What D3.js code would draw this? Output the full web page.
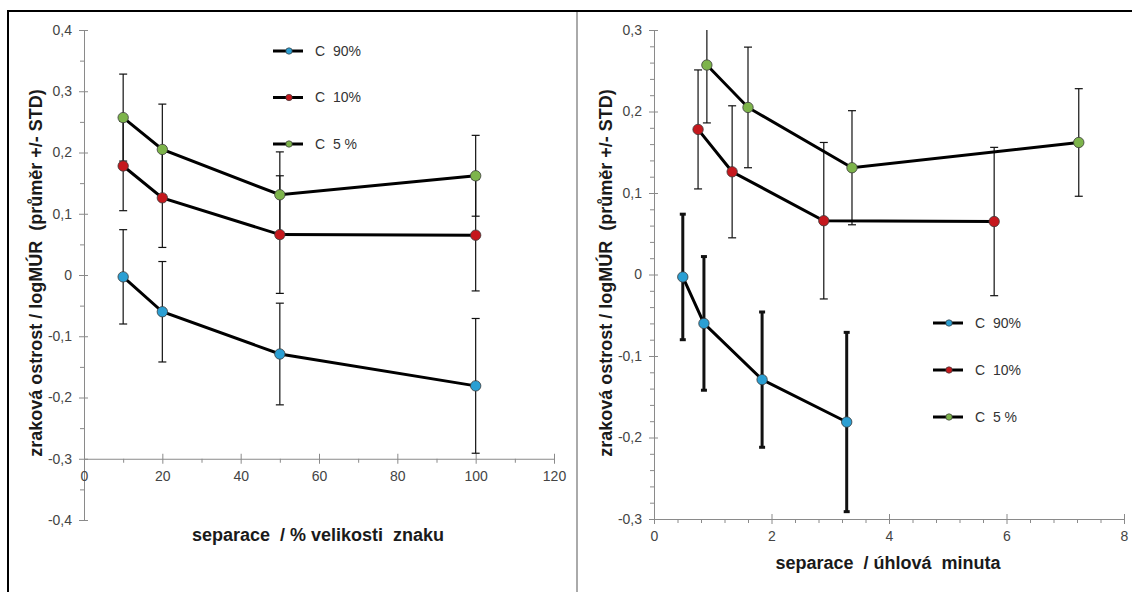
<!DOCTYPE html>
<html>
<head>
<meta charset="utf-8">
<script src="https://cdn.jsdelivr.net/npm/d3@7"></script>
<style>
body { margin: 0; background: #fff; }
text { font-family: "Liberation Sans", Arial, sans-serif; }
</style>
</head>
<body>
<div id="chart"></div>
<script>
// values
var seriesNames = ["C  90%", "C  10%", "C  5 %"];

var sepPercent = [10, 20, 50, 100];
var sepArcmin90 = [0.49, 0.85, 1.84, 3.28];
var sepArcmin10 = [0.75, 1.33, 2.89, 5.79];
var sepArcmin5 = [0.90, 1.60, 3.37, 7.23];

var mean90 = [-0.003, -0.060, -0.129, -0.181];
var std90 = [0.077, 0.082, 0.083, 0.110];
var mean10 = [0.178, 0.126, 0.066, 0.065];
var std10 = [0.073, 0.081, 0.096, 0.091];
var mean5 = [0.257, 0.205, 0.131, 0.162];
var std5 = [0.071, 0.074, 0.070, 0.066];

var yTicksLeft = [-0.4, -0.3, -0.2, -0.1, 0, 0.1, 0.2, 0.3, 0.4];
var xTicksLeft = [0, 20, 40, 60, 80, 100, 120];
var yTicksRight = [-0.3, -0.2, -0.1, 0, 0.1, 0.2, 0.3];
var xTicksRight = [0, 2, 4, 6, 8];

var colors = ["#2b9fd3", "#c5181d", "#7db44b"];

var yTitle = "zraková ostrost / logMÚR  (průměr +/- STD)";

var svg = d3.select("#chart")
  .append("svg")
    .attr("width", 1132)
    .attr("height", 592);

// outer frame
svg.append("line").attr("x1", 8).attr("x2", 1132).attr("y1", 11).attr("y2", 11)
  .attr("stroke", "#000").attr("stroke-width", 2);
svg.append("line").attr("x1", 8).attr("x2", 8).attr("y1", 10).attr("y2", 592)
  .attr("stroke", "#000").attr("stroke-width", 2);
svg.append("line").attr("x1", 577).attr("x2", 577).attr("y1", 12).attr("y2", 592)
  .attr("stroke", "#aaa").attr("stroke-width", 2);

function fmtY(d) {
  if (d === 0) return "0";
  return d3.format(".1f")(d).replace(".", ",").replace("\u2212", "-");
}
function fmtX(d) { return String(d); }

function drawPanel(p) {
  var x = d3.scaleLinear().domain(p.xDomain).range(p.xRange);
  var y = d3.scaleLinear().domain(p.yDomain).range(p.yRange);
  var g = svg.append("g");

  var clipId = "clip" + p.id;
  svg.append("clipPath").attr("id", clipId)
    .append("rect")
      .attr("x", p.xRange[0]).attr("y", y(p.yDomain[1]))
      .attr("width", p.xRange[1] - p.xRange[0])
      .attr("height", y(p.yDomain[0]) - y(p.yDomain[1]));

  // Add Y axis (minor, then major)
  g.append("g")
    .attr("transform", "translate(" + p.xRange[0] + ",0)")
    .call(d3.axisLeft(y).tickValues(p.yMinor).tickSize(4).tickFormat(""))
    .call(function (a) { a.select(".domain").remove(); });
  var ya = g.append("g")
    .attr("transform", "translate(" + p.xRange[0] + ",0)")
    .call(d3.axisLeft(y).tickValues(p.yTicks).tickSize(5).tickSizeOuter(0).tickFormat(fmtY));
  ya.selectAll(".tick line").attr("x1", 4);
  ya.selectAll(".tick text").attr("x", -12);

  // Add X axis
  var ax = y(p.xCross);
  g.append("g")
    .attr("transform", "translate(0," + ax + ")")
    .call(d3.axisBottom(x).tickValues(p.xMinor).tickSize(4).tickFormat(""))
    .call(function (a) { a.select(".domain").remove(); });
  var xa = g.append("g")
    .attr("transform", "translate(0," + ax + ")")
    .call(d3.axisBottom(x).tickValues(p.xTicks).tickSize(5).tickSizeOuter(0).tickFormat(fmtX));
  xa.selectAll(".tick line").attr("y1", -5);
  xa.selectAll(".tick text").attr("y", 12);

  g.selectAll(".domain, .tick line").attr("stroke", "#8a8a8a");
  g.selectAll(".tick text").attr("fill", "#444").style("font-size", "14px");

  var plot = g.append("g").attr("clip-path", "url(#" + clipId + ")");

  p.series.forEach(function (s, i) {
    var pts = s.xs.map(function (v, j) { return { x: v, m: s.mean[j], sd: s.std[j] }; });
    var w = p.thick[i] ? 3 : 1.2;
    var cap = p.thick[i] ? 3 : 4;
    var eb = plot.append("g").attr("stroke", "#111").attr("stroke-width", w);
    eb.selectAll("line.v").data(pts).enter().append("line")
      .attr("x1", function (d) { return x(d.x); })
      .attr("x2", function (d) { return x(d.x); })
      .attr("y1", function (d) { return y(d.m + d.sd); })
      .attr("y2", function (d) { return y(d.m - d.sd); });
    [1, -1].forEach(function (sign) {
      eb.selectAll("line.c" + sign).data(pts).enter().append("line")
        .attr("x1", function (d) { return x(d.x) - cap; })
        .attr("x2", function (d) { return x(d.x) + cap; })
        .attr("y1", function (d) { return y(d.m + sign * d.sd); })
        .attr("y2", function (d) { return y(d.m + sign * d.sd); });
    });
  });

  p.series.forEach(function (s, i) {
    var pts = s.xs.map(function (v, j) { return { x: v, m: s.mean[j] }; });
    plot.append("path")
      .datum(pts)
      .attr("fill", "none")
      .attr("stroke", "#000")
      .attr("stroke-width", 3)
      .attr("d", d3.line().x(function (d) { return x(d.x); }).y(function (d) { return y(d.m); }));
    plot.append("g").selectAll("circle").data(pts).enter().append("circle")
      .attr("cx", function (d) { return x(d.x); })
      .attr("cy", function (d) { return y(d.m); })
      .attr("r", 5.2)
      .attr("fill", colors[i])
      .attr("stroke", "#3a3a3a")
      .attr("stroke-width", 0.8);
  });

  // Add legend
  seriesNames.forEach(function (name, i) {
    var ly = p.legY + i * p.legStep;
    g.append("line").attr("x1", p.legX).attr("x2", p.legX + 30).attr("y1", ly).attr("y2", ly)
      .attr("stroke", "#000").attr("stroke-width", 3);
    g.append("circle").attr("cx", p.legX + 16).attr("cy", ly).attr("r", 3.2)
      .attr("fill", colors[i]).attr("stroke", "#3a3a3a").attr("stroke-width", 0.7);
    g.append("text").attr("x", p.legX + 42).attr("y", ly).attr("dy", "0.35em")
      .style("white-space", "pre").style("font-size", "14px").attr("fill", "#333")
      .text(name);
  });

  // Add name axis
  g.append("text")
    .attr("transform", "translate(" + p.yTitleX + "," + p.yTitleY + ") rotate(-90)")
    .attr("text-anchor", "middle")
    .attr("dy", "0.35em")
    .style("white-space", "pre")
    .style("font-size", "18px")
    .style("font-weight", "bold")
    .attr("fill", "#1a1a1a")
    .text(yTitle);
  g.append("text")
    .attr("x", p.xTitleX)
    .attr("y", p.xTitleY)
    .attr("text-anchor", "middle")
    .attr("dy", "0.35em")
    .style("white-space", "pre")
    .style("font-size", "18px")
    .style("font-weight", "bold")
    .attr("fill", "#1a1a1a")
    .text(p.xTitle);
}

drawPanel({
  id: "L",
  xDomain: [0, 120], xRange: [84, 554],
  yDomain: [-0.4, 0.4], yRange: [520, 30],
  xCross: -0.3,
  xTicks: xTicksLeft, xMinor: d3.range(10, 120, 20),
  yTicks: yTicksLeft, yMinor: d3.range(-0.35, 0.4, 0.1),
  series: [
    { xs: sepPercent, mean: mean90, std: std90 },
    { xs: sepPercent, mean: mean10, std: std10 },
    { xs: sepPercent, mean: mean5, std: std5 }
  ],
  thick: [false, false, false],
  legX: 273, legY: 51, legStep: 46.5,
  yTitleX: 36, yTitleY: 273,
  xTitle: "separace  / % velikosti  znaku", xTitleX: 318, xTitleY: 535
});

drawPanel({
  id: "R",
  xDomain: [0, 8], xRange: [654, 1124],
  yDomain: [-0.3, 0.3], yRange: [519, 30],
  xCross: -0.3,
  xTicks: xTicksRight, xMinor: d3.range(0, 8.01, 0.4).filter(function (v) { return Math.abs(v / 2 - Math.round(v / 2)) > 0.01; }),
  yTicks: yTicksRight, yMinor: d3.range(-0.28, 0.3, 0.02).filter(function (v) { return Math.abs(v * 10 - Math.round(v * 10)) > 0.01; }),
  series: [
    { xs: sepArcmin90, mean: mean90, std: std90 },
    { xs: sepArcmin10, mean: mean10, std: std10 },
    { xs: sepArcmin5, mean: mean5, std: std5 }
  ],
  thick: [true, false, false],
  legX: 933, legY: 323, legStep: 47,
  yTitleX: 606, yTitleY: 273,
  xTitle: "separace  / úhlová  minuta", xTitleX: 888, xTitleY: 563
});
</script>
</body>
</html>
